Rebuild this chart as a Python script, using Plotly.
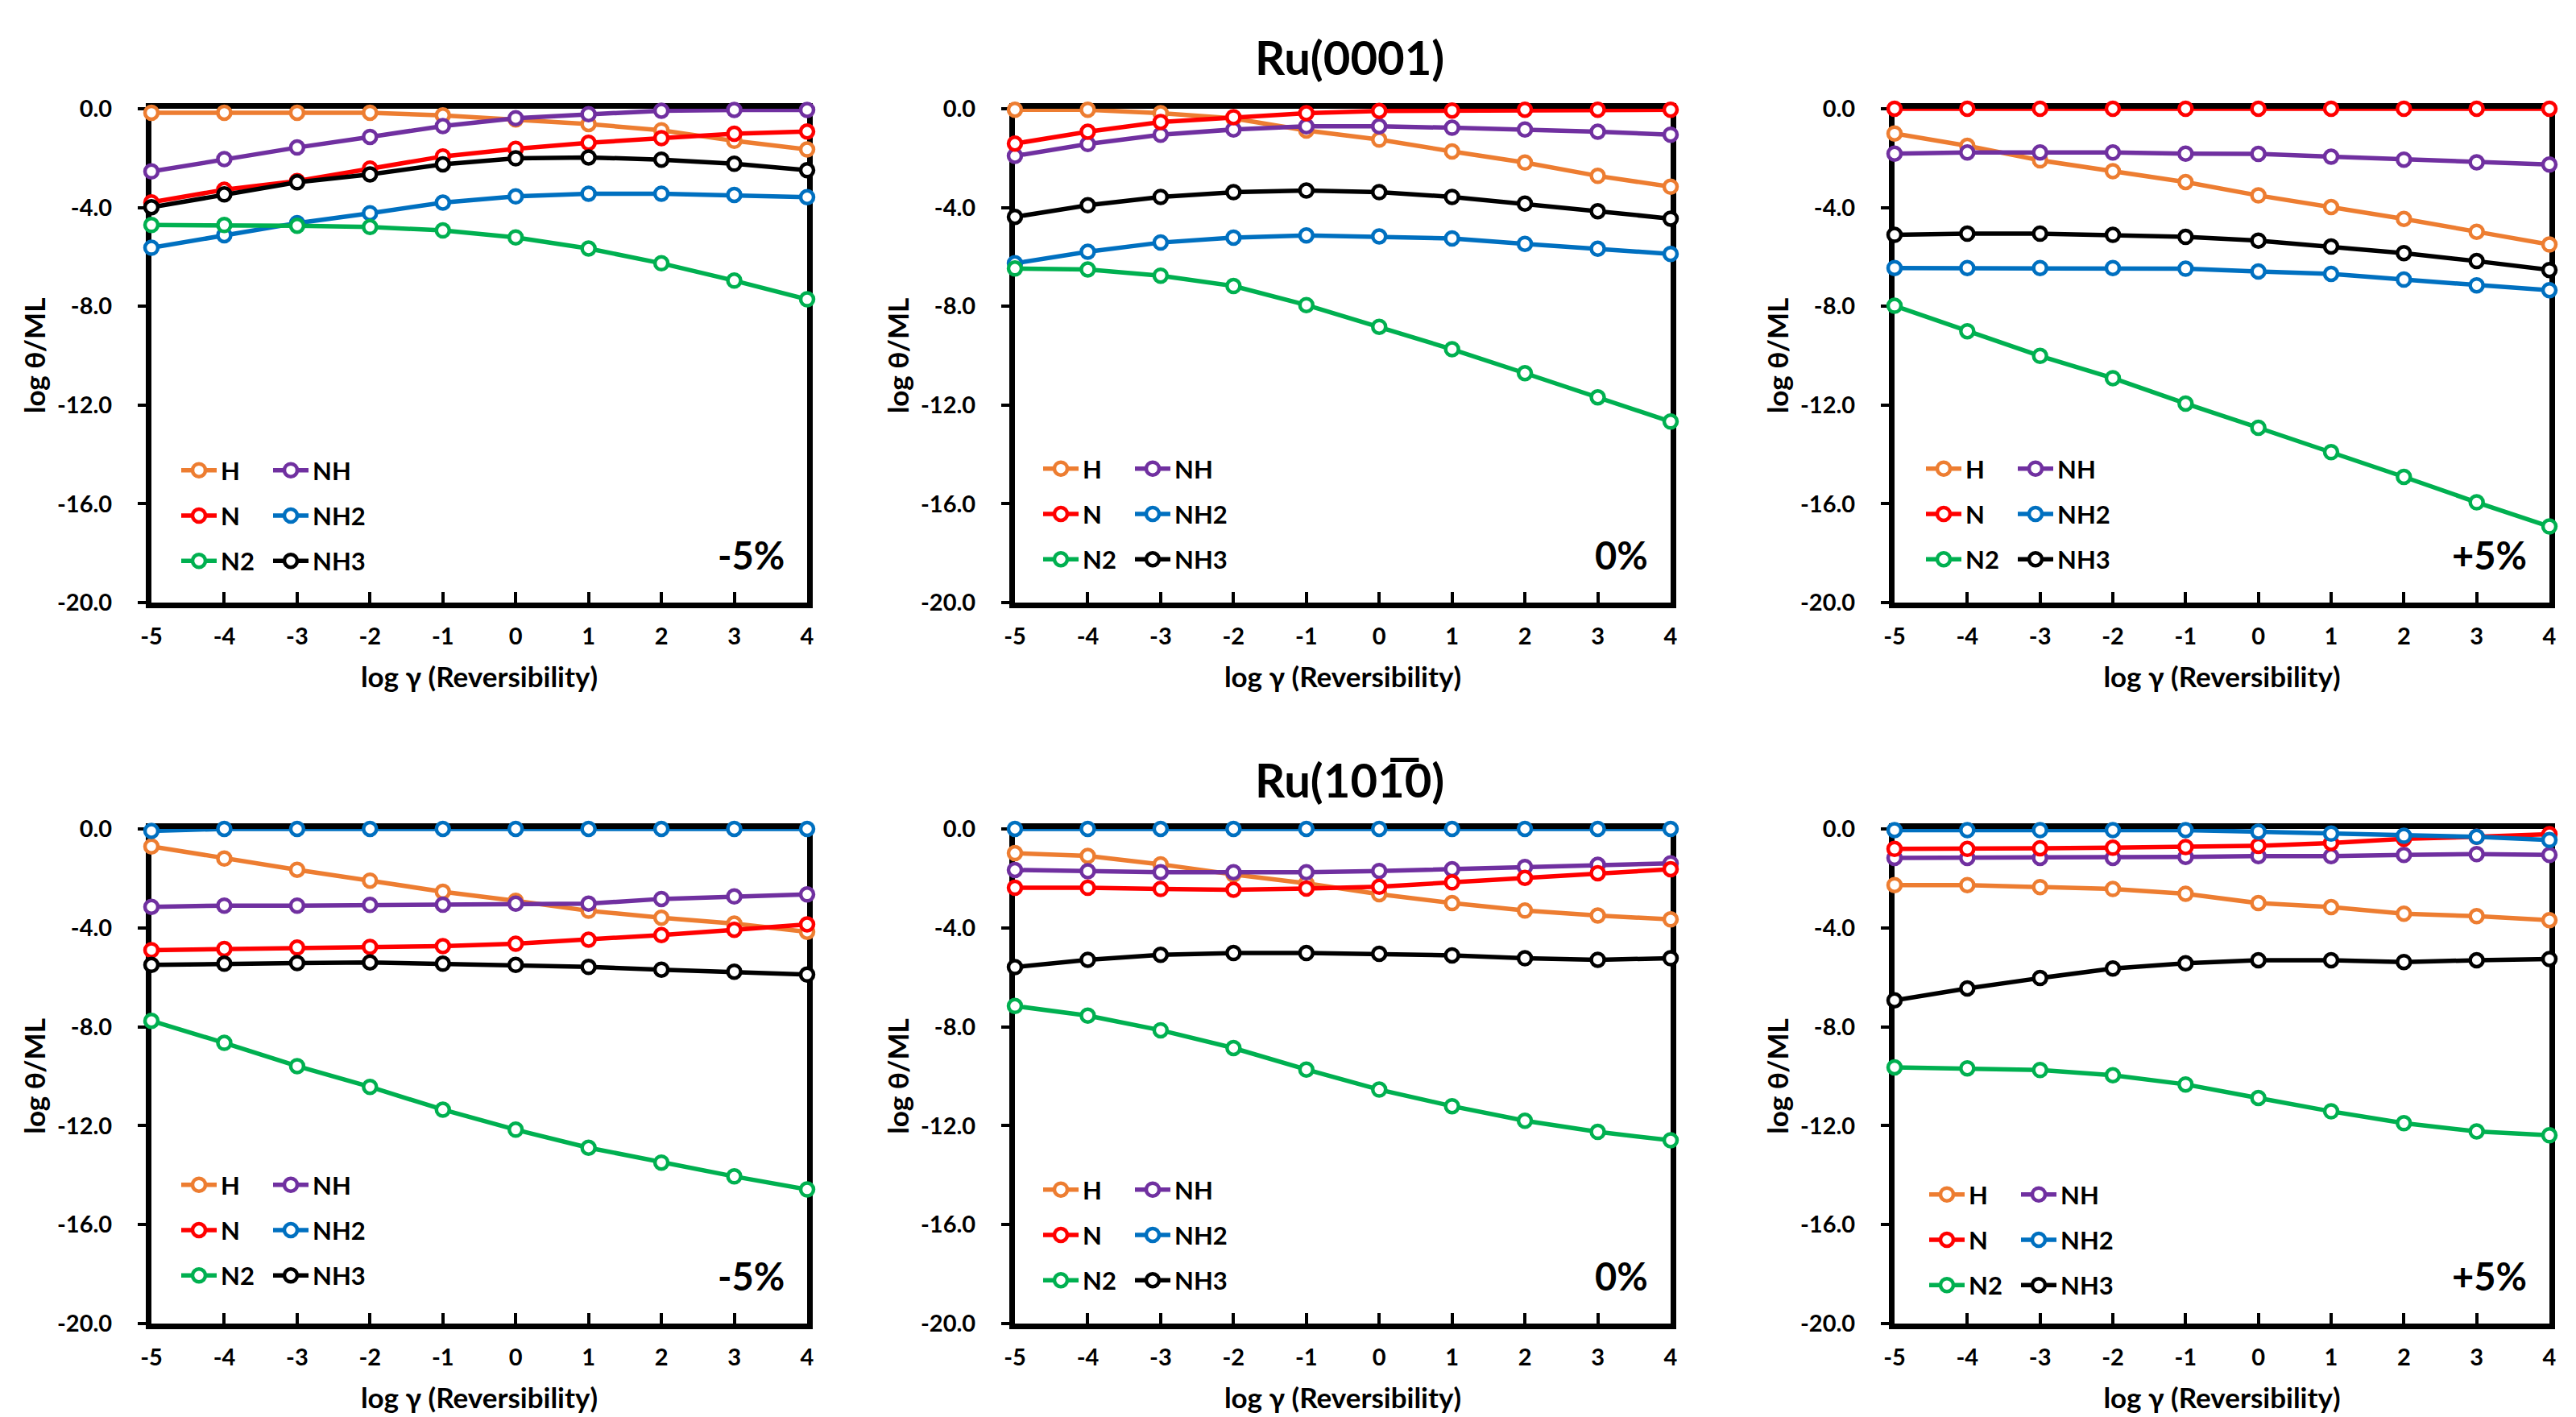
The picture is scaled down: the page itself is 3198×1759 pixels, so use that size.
import plotly.graph_objects as go

# ---------------- data ----------------
X_VALUES = [-5, -4, -3, -2, -1, 0, 1, 2, 3, 4]
X_TICK_LABELS = ["-5", "-4", "-3", "-2", "-1", "0", "1", "2", "3", "4"]
Y_TICK_VALUES = [0, -4, -8, -12, -16, -20]
Y_TICK_LABELS = ["0.0", "-4.0", "-8.0", "-12.0", "-16.0", "-20.0"]

SPECIES = ["H", "NH", "N", "NH2", "N2", "NH3"]
SPECIES_COLORS = ["#ED7D31", "#7030A0", "#FF0000", "#0070C0", "#00B050", "#000000"]

SURFACES = ["Ru(0001)", "Ru(101\u03050)"]
STRAIN_LABELS = ["-5%", "0%", "+5%"]

# Ru(0001), -5 %
r0001_m5_H = [-0.16, -0.16, -0.16, -0.16, -0.27, -0.43, -0.62, -0.87, -1.30, -1.65]
r0001_m5_NH = [-2.54, -2.04, -1.57, -1.14, -0.70, -0.38, -0.22, -0.08, -0.05, -0.05]
r0001_m5_N = [-3.79, -3.28, -2.93, -2.42, -1.93, -1.62, -1.38, -1.19, -1.01, -0.92]
r0001_m5_NH2 = [-5.63, -5.12, -4.63, -4.23, -3.80, -3.55, -3.44, -3.44, -3.49, -3.58]
r0001_m5_N2 = [-4.71, -4.71, -4.74, -4.79, -4.93, -5.21, -5.66, -6.26, -6.96, -7.72]
r0001_m5_NH3 = [-3.99, -3.47, -2.98, -2.66, -2.25, -2.01, -1.97, -2.06, -2.23, -2.49]

# Ru(0001), 0 %
r0001_0_H = [-0.04, -0.04, -0.18, -0.39, -0.88, -1.25, -1.73, -2.18, -2.72, -3.16]
r0001_0_NH = [-1.91, -1.43, -1.05, -0.84, -0.71, -0.71, -0.77, -0.84, -0.93, -1.05]
r0001_0_N = [-1.41, -0.93, -0.54, -0.34, -0.18, -0.09, -0.07, -0.04, -0.04, -0.04]
r0001_0_NH2 = [-6.26, -5.79, -5.42, -5.22, -5.13, -5.17, -5.25, -5.47, -5.67, -5.88]
r0001_0_N2 = [-6.47, -6.51, -6.76, -7.18, -7.95, -8.83, -9.74, -10.71, -11.69, -12.67]
r0001_0_NH3 = [-4.38, -3.91, -3.57, -3.38, -3.31, -3.38, -3.57, -3.84, -4.15, -4.45]

# Ru(0001), +5 %
r0001_p5_H = [-1.00, -1.50, -2.09, -2.53, -2.97, -3.51, -3.98, -4.46, -4.98, -5.50]
r0001_p5_NH = [-1.82, -1.77, -1.77, -1.77, -1.82, -1.83, -1.94, -2.06, -2.17, -2.26]
r0001_p5_N = [0.0, 0.0, 0.0, 0.0, 0.0, 0.0, 0.0, 0.0, 0.0, 0.0]
r0001_p5_NH2 = [-6.45, -6.45, -6.45, -6.45, -6.48, -6.59, -6.69, -6.92, -7.15, -7.35]
r0001_p5_N2 = [-7.98, -9.01, -10.01, -10.91, -11.94, -12.92, -13.91, -14.91, -15.94, -16.92]
r0001_p5_NH3 = [-5.11, -5.06, -5.06, -5.11, -5.19, -5.34, -5.58, -5.85, -6.17, -6.53]

# Ru(10-10), -5 %
r1010_m5_H = [-0.71, -1.20, -1.65, -2.09, -2.54, -2.91, -3.31, -3.59, -3.83, -4.16]
r1010_m5_NH = [-3.15, -3.10, -3.10, -3.07, -3.06, -3.02, -3.02, -2.83, -2.73, -2.65]
r1010_m5_N = [-4.90, -4.85, -4.80, -4.77, -4.74, -4.64, -4.48, -4.29, -4.08, -3.86]
r1010_m5_NH2 = [-0.08, 0.0, 0.0, 0.0, 0.0, 0.0, 0.0, 0.0, 0.0, 0.0]
r1010_m5_N2 = [-7.76, -8.65, -9.59, -10.43, -11.35, -12.16, -12.89, -13.49, -14.05, -14.58]
r1010_m5_NH3 = [-5.50, -5.45, -5.42, -5.40, -5.45, -5.50, -5.58, -5.69, -5.77, -5.89]

# Ru(10-10), 0 %
r1010_0_H = [-0.98, -1.09, -1.43, -1.84, -2.20, -2.64, -3.00, -3.30, -3.50, -3.66]
r1010_0_NH = [-1.66, -1.71, -1.75, -1.75, -1.75, -1.70, -1.63, -1.54, -1.45, -1.39]
r1010_0_N = [-2.38, -2.38, -2.43, -2.46, -2.41, -2.34, -2.16, -1.98, -1.79, -1.63]
r1010_0_NH2 = [0.0, 0.0, 0.0, 0.0, 0.0, 0.0, 0.0, 0.0, 0.0, 0.0]
r1010_0_N2 = [-7.16, -7.55, -8.14, -8.86, -9.73, -10.54, -11.21, -11.80, -12.25, -12.59]
r1010_0_NH3 = [-5.59, -5.29, -5.09, -5.02, -5.02, -5.05, -5.11, -5.23, -5.29, -5.23]

# Ru(10-10), +5 %
r1010_p5_H = [-2.27, -2.27, -2.35, -2.43, -2.62, -3.00, -3.16, -3.43, -3.53, -3.69]
r1010_p5_NH = [-1.17, -1.17, -1.17, -1.17, -1.13, -1.10, -1.10, -1.05, -1.02, -1.05]
r1010_p5_N = [-0.81, -0.81, -0.78, -0.76, -0.73, -0.68, -0.57, -0.40, -0.32, -0.21]
r1010_p5_NH2 = [-0.05, -0.05, -0.05, -0.05, -0.05, -0.11, -0.19, -0.28, -0.32, -0.45]
r1010_p5_N2 = [-9.64, -9.68, -9.75, -9.96, -10.33, -10.88, -11.42, -11.90, -12.23, -12.39]
r1010_p5_NH3 = [-6.93, -6.45, -6.03, -5.64, -5.43, -5.31, -5.31, -5.38, -5.31, -5.26]

PANELS = [
    [r0001_m5_H, r0001_m5_NH, r0001_m5_N, r0001_m5_NH2, r0001_m5_N2, r0001_m5_NH3],
    [r0001_0_H, r0001_0_NH, r0001_0_N, r0001_0_NH2, r0001_0_N2, r0001_0_NH3],
    [r0001_p5_H, r0001_p5_NH, r0001_p5_N, r0001_p5_NH2, r0001_p5_N2, r0001_p5_NH3],
    [r1010_m5_H, r1010_m5_NH, r1010_m5_N, r1010_m5_NH2, r1010_m5_N2, r1010_m5_NH3],
    [r1010_0_H, r1010_0_NH, r1010_0_N, r1010_0_NH2, r1010_0_N2, r1010_0_NH3],
    [r1010_p5_H, r1010_p5_NH, r1010_p5_N, r1010_p5_NH2, r1010_p5_N2, r1010_p5_NH3],
]

# ---------------- layout geometry (pixels) ----------------
W, H = 3198, 1759
COL_LEFT = [188, 1260, 2352]
COL_RIGHT = [1002, 2074, 3165]
ROW_TOP = [135, 1029]
ROW_BOTTOM = [748, 1643]
LEGEND_ROW1 = [583, 581, 581, 1470, 1476, 1482]   # px, centre of first legend row
LEGEND_COL1 = [248, 1318, 2414, 248, 1318, 2418]  # px, centre of first-column marker
LEGEND_COL_GAP = 114
TITLE_Y = [71, 967]
TITLE_X = 1675

FONT = "Lato, 'DejaVu Sans', sans-serif"

fig = go.Figure()

axis_common = dict(
    showline=True, linecolor="black", linewidth=7, mirror=True,
    showgrid=False, zeroline=False, layer="below traces",
    tickcolor="black", tickwidth=4,
    tickfont=dict(family=FONT, size=29, color="black", weight="bold"),
)
title_font = dict(family=FONT, size=35, color="black", weight="bold")

annotations = []
for p in range(6):
    r, c = divmod(p, 3)
    idx = "" if p == 0 else str(p + 1)
    xa, ya = "x" + idx, "y" + idx
    l_id_a = "legend" if p == 0 else f"legend{2 * p + 1}"
    l_id_b = f"legend{2 * p + 2}"
    for s, name in enumerate(SPECIES):
        fig.add_trace(go.Scatter(
            x=X_VALUES, y=PANELS[p][s], name=name, mode="lines+markers",
            xaxis=xa, yaxis=ya,
            line=dict(color=SPECIES_COLORS[s], width=5.5),
            marker=dict(symbol="circle", size=16, color="white",
                        line=dict(color=SPECIES_COLORS[s], width=4.5)),
            cliponaxis=False,
            legend=l_id_a if s % 2 == 0 else l_id_b,
            legendgroup=f"{name}_{p}",
        ))
    x0, x1 = COL_LEFT[c] / W, COL_RIGHT[c] / W
    y0, y1 = 1 - ROW_BOTTOM[r] / H, 1 - ROW_TOP[r] / H
    fig.layout["xaxis" + idx] = dict(
        axis_common, domain=[x0, x1], anchor=ya, range=[-5, 4],
        tickmode="array", tickvals=X_VALUES, ticktext=X_TICK_LABELS,
        ticks="inside", ticklen=13, ticklabelstandoff=10,
        title=dict(text="log γ (Reversibility)", standoff=26, font=title_font),
    )
    fig.layout["yaxis" + idx] = dict(
        axis_common, domain=[y0, y1], anchor=xa, range=[-20, 0],
        tickmode="array", tickvals=Y_TICK_VALUES, ticktext=Y_TICK_LABELS,
        ticks="outside", ticklen=10, ticklabelstandoff=26,
        title=dict(text="log θ/ML", standoff=6, font=title_font),
    )
    leg_top = LEGEND_ROW1[p] - 26
    for k, lid in enumerate([l_id_a, l_id_b]):
        fig.layout[lid] = dict(
            x=(LEGEND_COL1[p] + k * LEGEND_COL_GAP - 28) / W,
            xanchor="left", y=1 - leg_top / H, yanchor="top",
            bgcolor="rgba(0,0,0,0)", borderwidth=0,
            font=dict(family=FONT, size=31, color="black", weight="bold"),
            tracegroupgap=13, itemsizing="trace", itemwidth=44,
        )
    annotations.append(dict(
        text=STRAIN_LABELS[c], xref=xa + " domain", yref=ya + " domain",
        x=0.968, y=0.096, xanchor="right", yanchor="middle", showarrow=False,
        font=dict(family=FONT, size=47, color="black", weight="bold"),
    ))

for r in range(2):
    annotations.append(dict(
        text=SURFACES[r], xref="paper", yref="paper",
        x=TITLE_X / W, y=1 - TITLE_Y[r] / H, xanchor="center", yanchor="middle",
        showarrow=False,
        font=dict(family=FONT, size=58, color="black", weight="bold"),
    ))

fig.update_layout(
    width=W, height=H, margin=dict(l=0, r=0, t=0, b=0, autoexpand=False),
    paper_bgcolor="white", plot_bgcolor="white",
    annotations=annotations, showlegend=True,
)

fig.write_html("out.html")
